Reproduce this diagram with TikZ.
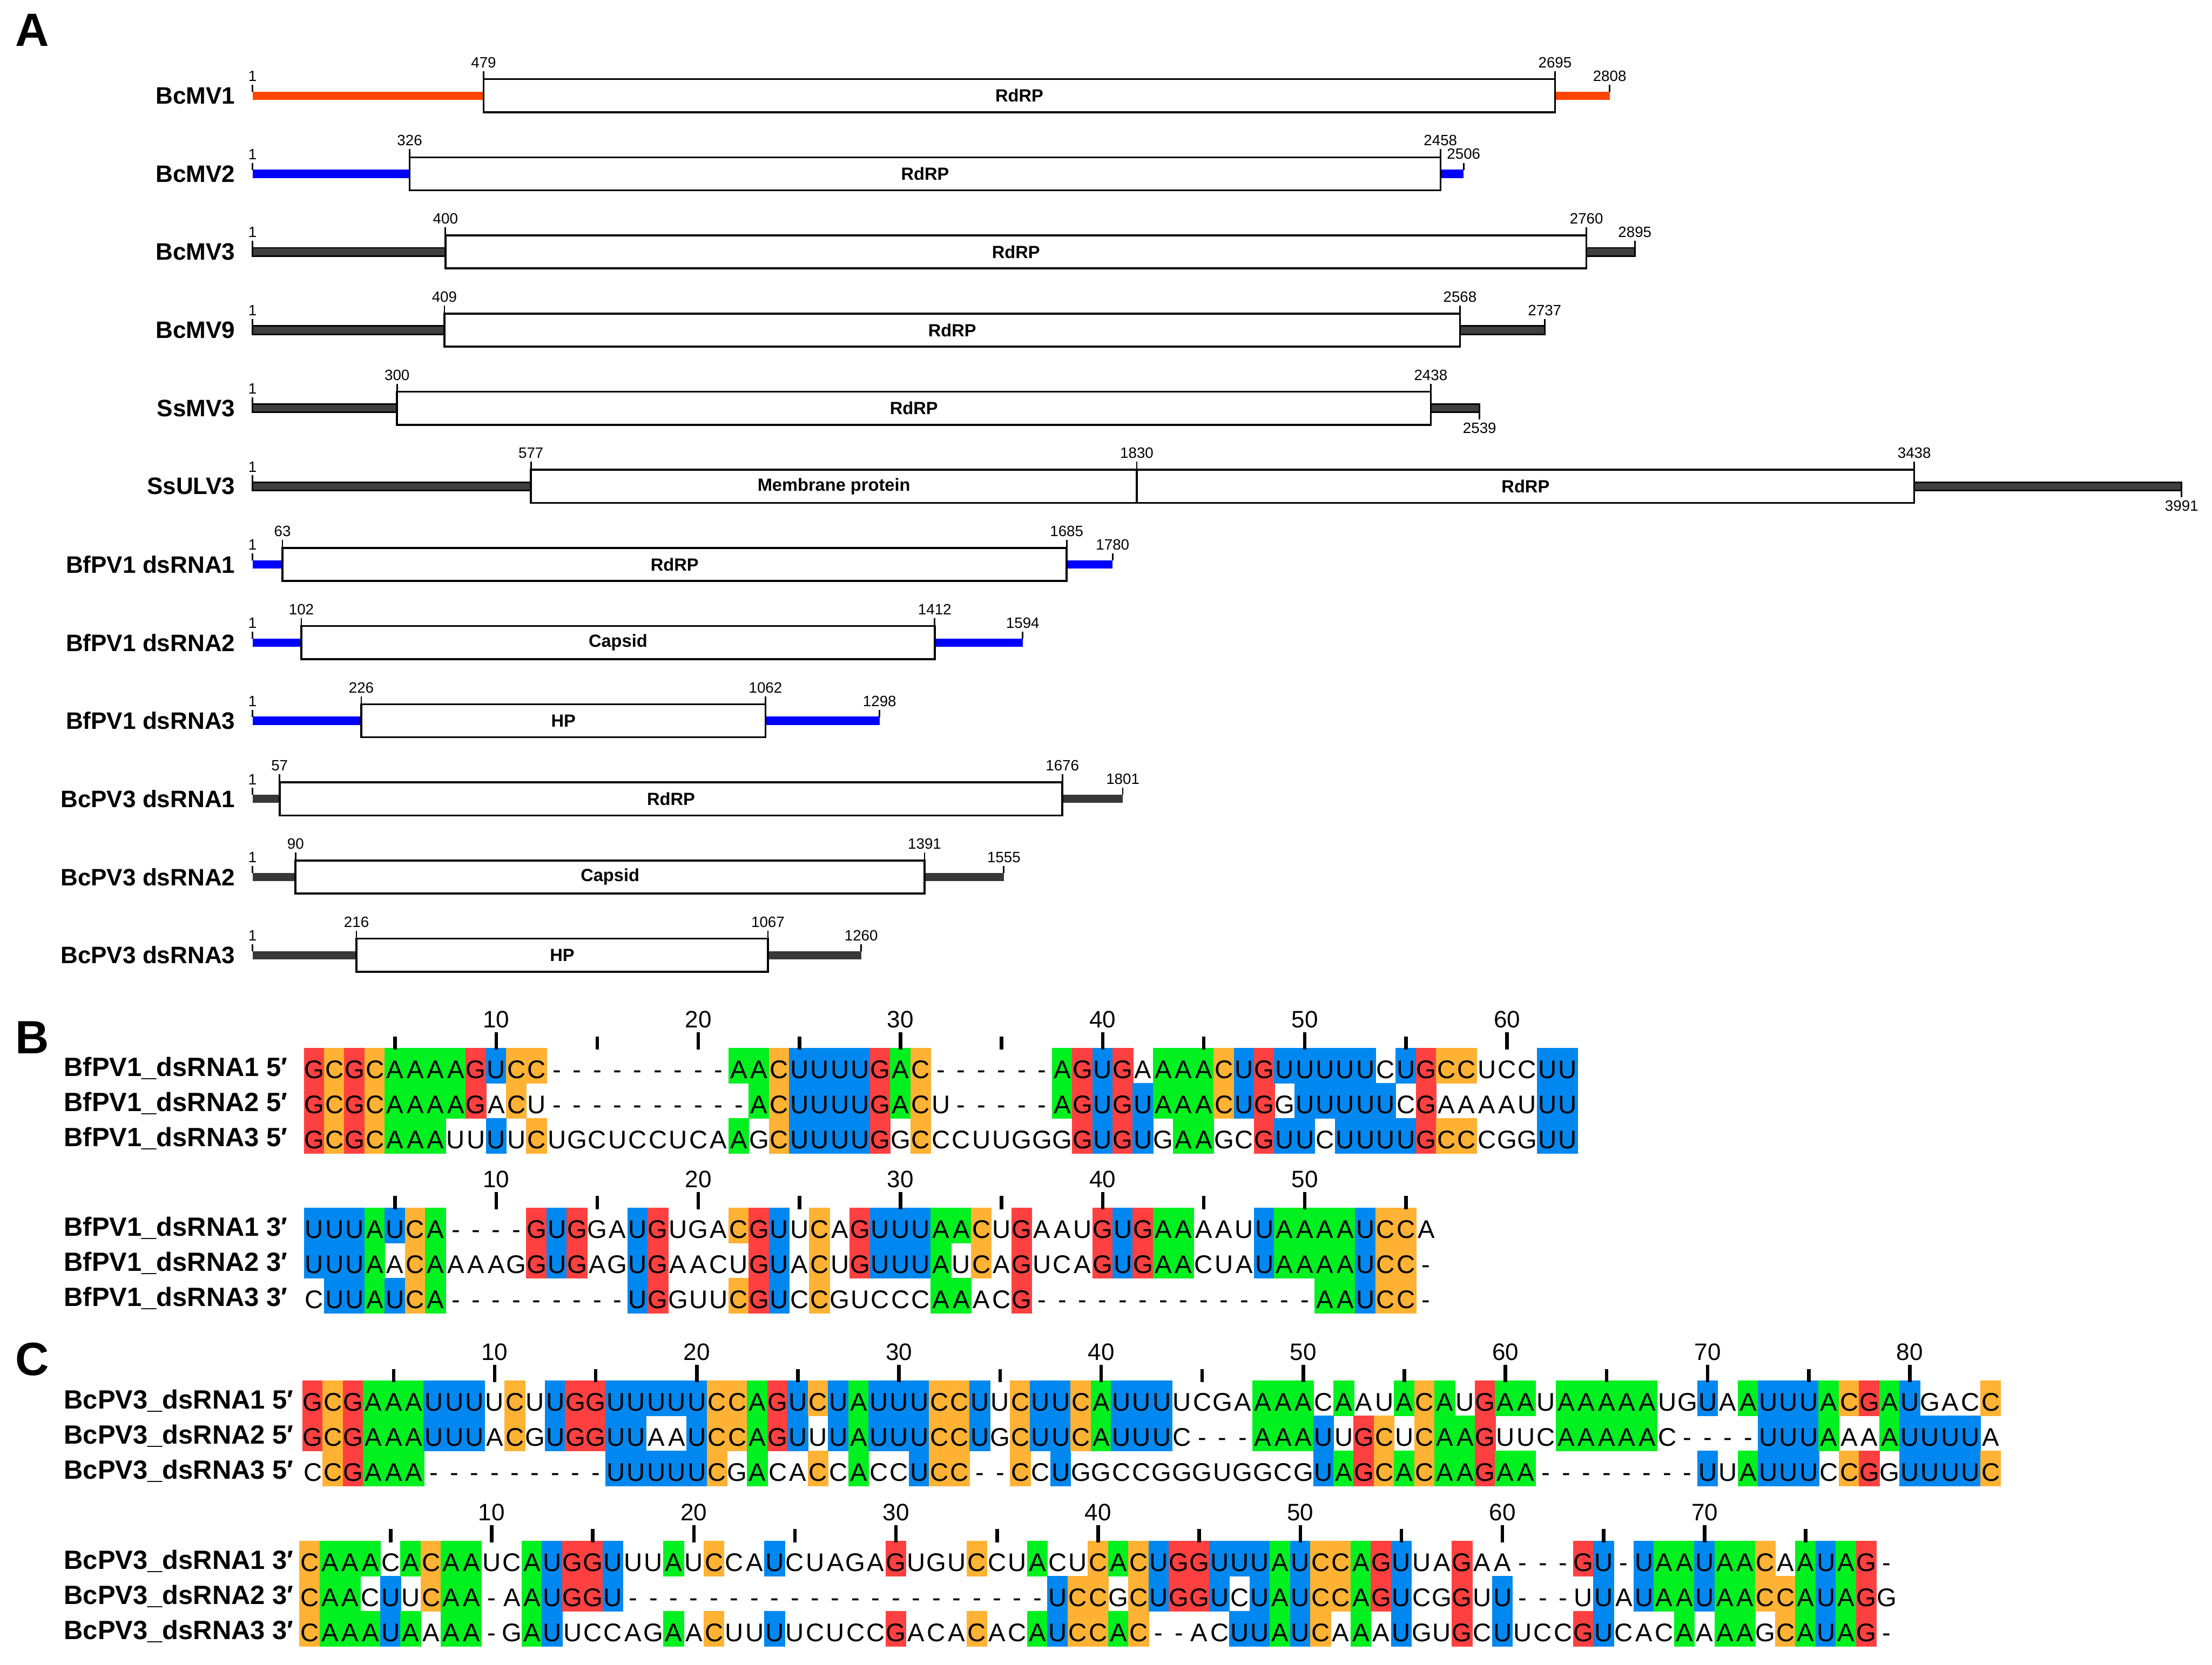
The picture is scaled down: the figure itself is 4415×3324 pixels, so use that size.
\documentclass[tikz,border=0pt]{standalone}
\usepackage{fontspec}
\setmainfont{Liberation Sans}
\usepackage{xstring}
\definecolor{ntA}{HTML}{00F020}
\definecolor{ntC}{HTML}{FFB233}
\definecolor{ntG}{HTML}{FF4040}
\definecolor{ntU}{HTML}{0088F0}
\definecolor{mvorange}{HTML}{FF4500}
\definecolor{pvblue}{HTML}{0000FF}
\tikzset{
  rowlbl/.style={font=\fontsize{13.5}{16}\selectfont\bfseries, anchor=east, inner sep=0pt},
  numlbl/.style={font=\fontsize{8.5}{10}\selectfont, inner sep=1.5pt},
  orfbox/.style={draw=black, fill=white, line width=1.1pt},
  orflbl/.style={font=\fontsize{10}{12}\selectfont\bfseries, inner sep=0pt},
  gtick/.style={line width=0.85pt},
  mvbar/.style={fill=mvorange},
  pvbar/.style={fill=pvblue},
  ssbar/.style={fill=black!75, draw=black, line width=0.9pt},
  pcbar/.style={fill=black!78},
  seqlbl/.style={font=\fontsize{15}{18}\selectfont\bfseries, anchor=west, inner sep=0pt},
  ntchar/.style={font=\fontsize{14.5}{17}\selectfont, anchor=base, inner sep=0pt},
  coltick/.style={line width=2pt},
  poslbl/.style={font=\fontsize{13.5}{16}\selectfont, inner sep=0pt},
  panel/.style={font=\fontsize{26.5}{30}\selectfont\bfseries, anchor=north west, inner sep=0pt}
}
% nucleotide position -> x
\newcommand\gx[1]{(504+0.965*(#1-1))}
% genome: name, label, centre y, end x, end text, bar style, end label up (1) or down (-1)
\newcommand\genome[7]{%
  \node[rowlbl] (#1) at (470,#3) {#2};
  \fill[#6] (504,#3-8.25) rectangle ({#4},#3+8.25);
  \draw[gtick] (504,#3-8) -- ++(0,-14) node[numlbl, anchor=south] (#1-first) {1};
  \ifnum#7>0
    \draw[gtick] ({#4},#3-8) -- ++(0,-14) node[numlbl, anchor=south] (#1-last) {#5};
  \else
    \draw[gtick] ({#4},#3+8) -- ++(0,14) node[numlbl, anchor=north] (#1-last) {#5};
  \fi
}
% orf: name, centre y, start x, end x, protein, start text, end text
\newcommand\orf[7]{%
  \draw[orfbox] ({#3},#2-33) rectangle ({#4},#2+33);
  \node[orflbl] (#1) at ({(#3+#4)/2},#2) {#5};
  \draw[gtick] ({#3},#2-33) -- ++(0,-16) node[numlbl, anchor=south] (#1-s) {#6};
  \draw[gtick] ({#4},#2-33) -- ++(0,-16) node[numlbl, anchor=south] (#1-e) {#7};
}
% one alignment cell: name, x, y top, residue, the two other residues
\newcommand\ntcell[6]{%
  \def\cellcol{}%
  \IfStrEq{#4}{-}{}{\IfStrEq{#4}{#5}{\edef\cellcol{nt#4}}{\IfStrEq{#4}{#6}{\edef\cellcol{nt#4}}{}}}%
  \ifx\cellcol\empty\else
    \fill[fill=\cellcol] (#2-0.6,#3-0.6) rectangle (#2+40.95,#3+70.6);
  \fi
  \node[ntchar] (#1) at (#2+20.18,#3+60) {#4};
}
% alignment block: name, top y, left x, columns, three sequences, virus, end
\newcommand\alnblock[9]{%
  \foreach \rw in {1,2,3}
    \node[seqlbl] (#1-lbl\rw) at (127,{#2+40+70*(\rw-1)}) {#8\_dsRNA\rw\ #9′};
  \foreach \ci in {1,...,#4}{%
    \StrChar{#5}{\ci}[\chA]\StrChar{#6}{\ci}[\chB]\StrChar{#7}{\ci}[\chC]%
    \pgfmathsetmacro\cx{#3+40.35*(\ci-1)}%
    \ntcell{#1-1-\ci}{\cx}{#2}{\chA}{\chB}{\chC}%
    \ntcell{#1-2-\ci}{\cx}{#2+70}{\chB}{\chA}{\chC}%
    \ntcell{#1-3-\ci}{\cx}{#2+140}{\chC}{\chA}{\chB}%
  }
  \foreach \tk in {5,15,...,#4}
    \draw[coltick] ({#3+40.35*(\tk-0.5)},#2+2) -- ++(0,-26);
  \foreach \tk in {10,20,...,#4}
    \draw[coltick] ({#3+40.35*(\tk-0.5)},#2+2) -- ++(0,-34) node[poslbl, above=1.5pt] (#1-t\tk) {\tk};
}

\begin{document}
\begin{tikzpicture}[x=0.01cm, y=-0.01cm]
  \useasboundingbox (0,0) rectangle (4415,3324);
  \fill[white] (0,0) rectangle (4415,3324);

  \node[panel] (pa) at (30,27) {A};
  \node[panel] (pb) at (30,2039) {B};
  \node[panel] (pc) at (30,2680) {C};

  \genome{bcmv1}{BcMV1}{191}{\gx{2808}}{2808}{mvbar}{1}
  \orf{bcmv1-rdrp}{191}{\gx{479}}{\gx{2695}}{RdRP}{479}{2695}
  \genome{bcmv2}{BcMV2}{347}{\gx{2506}}{2506}{pvbar}{1}
  \orf{bcmv2-rdrp}{347}{\gx{326}}{\gx{2458}}{RdRP}{326}{2458}
  \genome{bcmv3}{BcMV3}{503}{3263}{2895}{ssbar}{1}
  \orf{bcmv3-rdrp}{503}{\gx{400}}{\gx{2760}}{RdRP}{400}{2760}
  \genome{bcmv9}{BcMV9}{659}{3083}{2737}{ssbar}{1}
  \orf{bcmv9-rdrp}{659}{887}{2914}{RdRP}{409}{2568}
  \genome{ssmv3}{SsMV3}{815}{\gx{2539}}{2539}{ssbar}{-1}
  \orf{ssmv3-rdrp}{815}{\gx{300}}{\gx{2438}}{RdRP}{300}{2438}
  \genome{ssulv3}{SsULV3}{971}{\gx{3991}}{3991}{ssbar}{-1}
  \orf{ssulv3-mp}{971}{\gx{577}}{\gx{1830}}{Membrane protein}{577}{1830}
  \orf{ssulv3-rdrp}{971}{\gx{1830}}{\gx{3438}}{RdRP}{}{3438}
  \genome{bfpv1a}{BfPV1 dsRNA1}{1127}{\gx{1780}}{1780}{pvbar}{1}
  \orf{bfpv1a-rdrp}{1127}{\gx{63}}{\gx{1685}}{RdRP}{63}{1685}
  \genome{bfpv1b}{BfPV1 dsRNA2}{1283}{\gx{1594}}{1594}{pvbar}{1}
  \orf{bfpv1b-cp}{1283}{\gx{102}}{\gx{1412}}{Capsid}{102}{1412}
  \genome{bfpv1c}{BfPV1 dsRNA3}{1439}{\gx{1298}}{1298}{pvbar}{1}
  \orf{bfpv1c-hp}{1439}{\gx{226}}{\gx{1062}}{HP}{226}{1062}
  \genome{bcpv3a}{BcPV3 dsRNA1}{1595}{\gx{1801}}{1801}{pcbar}{1}
  \orf{bcpv3a-rdrp}{1595}{\gx{57}}{\gx{1676}}{RdRP}{57}{1676}
  \genome{bcpv3b}{BcPV3 dsRNA2}{1751}{\gx{1555}}{1555}{pcbar}{1}
  \orf{bcpv3b-cp}{1751}{\gx{90}}{\gx{1391}}{Capsid}{90}{1391}
  \genome{bcpv3c}{BcPV3 dsRNA3}{1907}{\gx{1260}}{1260}{pcbar}{1}
  \orf{bcpv3c-hp}{1907}{\gx{216}}{\gx{1067}}{HP}{216}{1067}

  \alnblock{bf5}{2093}{607}{63}%
    {GCGCAAAAGUCC---------AACUUUUGAC------AGUGAAAACUGUUUUUCUGCCUCCUU}%
    {GCGCAAAAGACU----------ACUUUUGACU-----AGUGUAAACUGGUUUUUCGAAAAUUU}%
    {GCGCAAAUUUUCUGCUCCUCAAGCUUUUGGCCCUUGGGGUGUGAAGCGUUCUUUUGCCCGGUU}%
    {BfPV1}{5}
  \alnblock{bf3}{2412}{607}{56}%
    {UUUAUCA----GUGGAUGUGACGUUCAGUUUAACUGAAUGUGAAAAUUAAAAUCCA}%
    {UUUAACAAAAGGUGAGUGAACUGUACUGUUUAUCAGUCAGUGAACUAUAAAAUCC-}%
    {CUUAUCA---------UGGUUCGUCCGUCCCAAACG--------------AAUCC-}%
    {BfPV1}{3}
  \alnblock{bc5}{2757}{604}{84}%
    {GCGAAAUUUUCUUGGUUUUUCCAGUCUAUUUCCUUCUUCAUUUUCGAAAACAAUACAUGAAUAAAAAUGUAAUUUACGAUGACC}%
    {GCGAAAUUUACGUGGUUAAUCCAGUUUAUUUCCUGCUUCAUUUC---AAAUUGCUCAAGUUCAAAAAC----UUUAAAAUUUUA}%
    {CCGAAA---------UUUUUCGACACCACCUCC--CCUGGCCGGGUGGCGUAGCACAAGAA--------UUAUUUCCGGUUUUC}%
    {BcPV3}{5}
  \alnblock{bc3}{3077}{598}{79}%
    {CAAACACAAUCAUGGUUUAUCCAUCUAGAGUGUCCUACUCACUGGUUUAUCCAGUUAGAA---GU-UAAUAACAAUAG-}%
    {CAACUUCAA-AAUGGU---------------------UCCGCUGGUCUAUCCAGUCGGUU---UUAUAAUAACCAUAGG}%
    {CAAAUAAAA-GAUUCCAGAACUUUUCUCCGACACACAUCCAC--ACUUAUCAAAUGUGCUUCCGUCACAAAAGCAUAG-}%
    {BcPV3}{3}
\end{tikzpicture}
\end{document}
